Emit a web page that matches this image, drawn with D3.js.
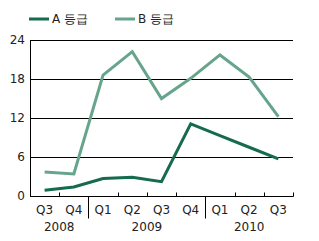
<!DOCTYPE html>
<html>
<head>
<meta charset="utf-8">
<script src="https://cdn.jsdelivr.net/npm/d3@7"></script>
<style>
body { margin: 0; background: #fff; }
text { font-family: "DejaVu Sans", sans-serif; }
</style>
</head>
<body>
<script>
const quarters = ["Q3", "Q4", "Q1", "Q2", "Q3", "Q4", "Q1", "Q2", "Q3"];
const years = [
	{ label: "2008", from: 0, to: 2 },
	{ label: "2009", from: 2, to: 6 },
	{ label: "2010", from: 6, to: 9 }
];
const gradeA = [0.9, 1.4, 2.7, 2.9, 2.2, 11.1, 9.3, 7.5, 5.7];
const gradeB = [3.7, 3.4, 18.6, 22.2, 15.0, 18.1, 21.7, 18.3, 12.2];
const yTicks = [0, 6, 12, 18, 24];
const seriesNames = ["A 등급", "B 등급"];

const colors = ["#156b4d", "#66a58b"];
const width = 319, height = 241;
const margin = { left: 30, right: 26, top: 40, bottom: 45 };

const svg = d3.select("body").append("svg")
	.attr("width", width)
	.attr("height", height);

const x = d3.scaleBand()
	.domain(d3.range(quarters.length))
	.range([margin.left, width - margin.right]);
const y = d3.scaleLinear()
	.domain([0, 24])
	.range([height - margin.bottom, margin.top]);

// gridlines
svg.append("g")
	.selectAll("line")
	.data(yTicks.filter(d => d > 0))
	.enter()
	.append("line")
	.attr("x1", margin.left)
	.attr("x2", width - margin.right)
	.attr("y1", d => Math.round(y(d)) + 0.5)
	.attr("y2", d => Math.round(y(d)) + 0.5)
	.attr("stroke", "#000")
	.attr("stroke-width", 1);

// y labels
svg.append("g")
	.selectAll("text")
	.data(yTicks)
	.enter()
	.append("text")
	.attr("x", margin.left - 5)
	.attr("y", d => y(d) + 4)
	.attr("text-anchor", "end")
	.attr("font-size", 12)
	.attr("fill", "#222")
	.text(d => d);

// axes lines
const bottom = Math.round(y(0)) + 0.5;
svg.append("line")
	.attr("x1", margin.left + 0.5).attr("x2", margin.left + 0.5)
	.attr("y1", y(24)).attr("y2", bottom)
	.attr("stroke", "#000");
svg.append("line")
	.attr("x1", margin.left).attr("x2", width - margin.right + 0.5)
	.attr("y1", bottom).attr("y2", bottom)
	.attr("stroke", "#000");

// small ticks at quarter boundaries
const boundaries = d3.range(1, quarters.length + 1);
const yearBreaks = years.slice(1).map(d => d.from);
svg.append("g")
	.selectAll("line")
	.data(boundaries.filter(i => !yearBreaks.includes(i)))
	.enter()
	.append("line")
	.attr("x1", i => Math.round(x(0) + i * x.step()) + 0.5)
	.attr("x2", i => Math.round(x(0) + i * x.step()) + 0.5)
	.attr("y1", bottom - 4)
	.attr("y2", bottom)
	.attr("stroke", "#000");

// year separators
svg.append("g")
	.selectAll("line")
	.data(yearBreaks)
	.enter()
	.append("line")
	.attr("x1", i => Math.round(x(0) + i * x.step()) + 0.5)
	.attr("x2", i => Math.round(x(0) + i * x.step()) + 0.5)
	.attr("y1", bottom)
	.attr("y2", bottom + 22)
	.attr("stroke", "#000");

// quarter labels
svg.append("g")
	.selectAll("text")
	.data(quarters)
	.enter()
	.append("text")
	.attr("x", (d, i) => x(i) + x.bandwidth() / 2)
	.attr("y", bottom + 17)
	.attr("text-anchor", "middle")
	.attr("font-size", 12)
	.attr("fill", "#222")
	.text(d => d);

// year labels
svg.append("g")
	.selectAll("text")
	.data(years)
	.enter()
	.append("text")
	.attr("x", d => x(0) + (d.from + d.to) / 2 * x.step())
	.attr("y", bottom + 34)
	.attr("text-anchor", "middle")
	.attr("font-size", 12)
	.attr("fill", "#222")
	.text(d => d.label);

// lines
const line = d3.line()
	.x((d, i) => x(i) + x.bandwidth() / 2)
	.y(d => y(d));

[gradeA, gradeB].forEach((series, k) => {
	svg.append("path")
		.datum(series)
		.attr("fill", "none")
		.attr("stroke", colors[k])
		.attr("stroke-width", 3)
		.attr("stroke-linejoin", "miter")
		.attr("d", line);
});

// legend
const legend = svg.append("g");
seriesNames.forEach((name, k) => {
	const lx = 29 + k * 86;
	legend.append("line")
		.attr("x1", lx).attr("x2", lx + 20)
		.attr("y1", 19).attr("y2", 19)
		.attr("stroke", colors[k])
		.attr("stroke-width", 3);
	legend.append("text")
		.attr("x", lx + 23)
		.attr("y", 23)
		.attr("font-size", 12)
		.attr("fill", "#222")
		.text(name);
});
</script>
</body>
</html>
